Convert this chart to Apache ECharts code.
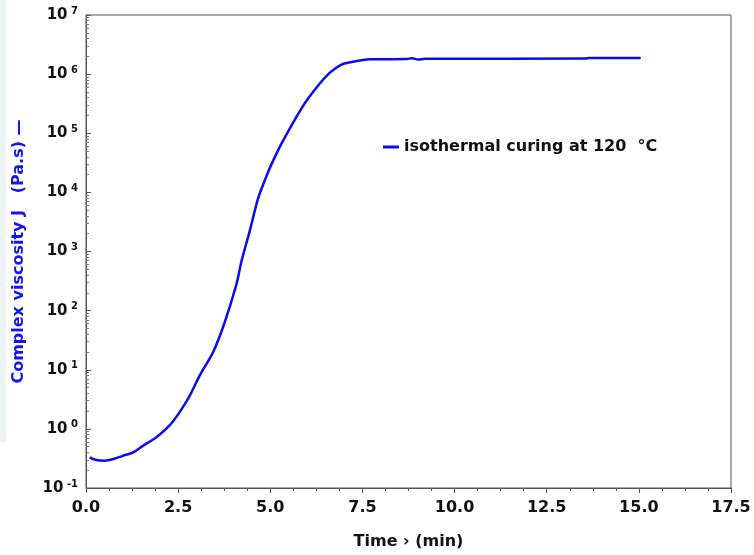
<!DOCTYPE html>
<html>
<head>
<meta charset="utf-8">
<script src="https://cdn.jsdelivr.net/npm/echarts@6/dist/echarts.min.js"></script>
<style>
    html, body { margin: 0; padding: 0; background: #fff; }
    #main { width: 754px; height: 555px; }
</style>
</head>
<body>
<div id="main"></div>
<script>
// 时间 (min)
const time = [0.1, 0.25, 0.5, 0.75, 1.0, 1.28, 1.55, 1.91, 2.28, 2.55, 2.82, 3.09, 3.45, 3.75,
    4.08, 4.22, 4.44, 4.67, 4.9, 5.0, 5.3, 5.89, 6.25, 6.61, 6.93, 7.15, 7.7, 8.7, 8.85, 9.0,
    9.2, 13.55, 13.65, 15.05]
// 复数粘度 (Pa.s)
const viscosity = [0.33, 0.30, 0.29, 0.31, 0.35, 0.40, 0.52, 0.72, 1.17, 1.96, 3.7, 8.1, 20, 60,
    277, 690, 2190, 7940, 19000, 27000, 66000, 290000, 590000, 1.05e6, 1.45e6, 1.58e6, 1.78e6, 1.8e6, 1.86e6, 1.76e6,
    1.82e6, 1.83e6, 1.88e6, 1.88e6]

const seriesName = 'isothermal curing at 120  °C'

const myChart = echarts.init(document.querySelector('#main'))

const labelFont = 'DejaVu Sans, sans-serif'

const option = {
    animation: false,
    // 左边的浅色条
    graphic: [{
        type: 'rect',
        shape: { x: 0, y: 0, width: 6, height: 442 },
        style: { fill: '#edf2f5' },
        silent: true
    }],
    grid: {
        left: 86,
        right: 23,
        top: 15,
        bottom: 63,
        show: true,
        borderColor: '#555',
        borderWidth: 1
    },
    legend: {
        left: 378,
        top: 134,
        icon: 'rect',
        itemWidth: 16,
        itemHeight: 3,
        itemGap: 0,
        textStyle: {
            fontFamily: labelFont,
            fontWeight: 'bold',
            fontSize: 16,
            color: '#111',
            padding: [0, 0, 0, 0]
        },
        data: [seriesName]
    },
    xAxis: {
        type: 'value',
        min: 0,
        max: 17.5,
        interval: 2.5,
        name: 'Time \u203A (min)',
        nameLocation: 'middle',
        nameGap: 46,
        nameTextStyle: {
            fontFamily: labelFont,
            fontWeight: 'bold',
            fontSize: 16,
            color: '#111'
        },
        axisLine: { onZero: false, lineStyle: { color: '#555' } },
        axisTick: { show: true, inside: false, length: 5, lineStyle: { color: '#555' } },
        minorTick: { show: true, splitNumber: 4, length: 3, lineStyle: { color: '#555' } },
        splitLine: { show: false },
        axisLabel: {
            margin: 12,
            fontFamily: labelFont,
            fontWeight: 'bold',
            fontSize: 16,
            color: '#111',
            formatter: v => v.toFixed(1)
        }
    },
    yAxis: {
        type: 'log',
        logBase: 10,
        min: 0.1,
        max: 1e7,
        name: 'Complex viscosity J   (Pa.s) \u2014',
        nameLocation: 'middle',
        nameGap: 59,
        nameTextStyle: {
            fontFamily: labelFont,
            fontWeight: 'bold',
            fontSize: 16,
            color: '#1414f0'
        },
        axisLine: { show: true, lineStyle: { color: '#555' } },
        axisTick: { show: true, inside: true, length: 5, lineStyle: { color: '#555' } },
        minorTick: { show: true, splitNumber: 9, length: 3, lineStyle: { color: '#777' } },
        splitLine: { show: false },
        axisLabel: {
            margin: 8,
            formatter: function (v) {
                const e = Math.round(Math.log10(v))
                return '{b|10}{s| ' + e + '}'
            },
            rich: {
                b: { fontFamily: labelFont, fontWeight: 'bold', fontSize: 15, color: '#111' },
                s: { fontFamily: labelFont, fontWeight: 'bold', fontSize: 10, color: '#111', verticalAlign: 'top', padding: [0, 0, 8, 0] }
            }
        }
    },
    series: [{
        name: seriesName,
        type: 'line',
        data: time.map((t, i) => [t, viscosity[i]]),
        showSymbol: false,
        smooth: 0.3,
        lineStyle: { width: 2.5, color: '#0a0af0' },
        itemStyle: { color: '#0a0af0' }
    }]
}

myChart.setOption(option)
</script>
</body>
</html>
